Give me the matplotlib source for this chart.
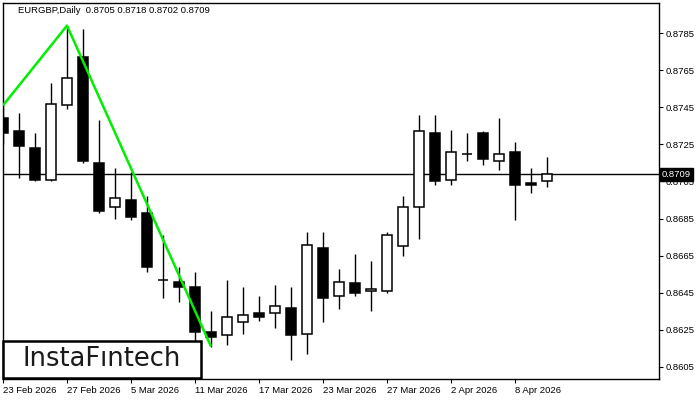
import matplotlib
matplotlib.use("Agg")
import matplotlib.pyplot as plt
from matplotlib.patches import Rectangle

# ---- data ----
opens  = [0.8739, 0.8732, 0.8723, 0.8706, 0.8746, 0.8772, 0.8715, 0.8691, 0.8695, 0.8688,
          0.8652, 0.8651, 0.8648, 0.8624, 0.8622, 0.8629, 0.8634, 0.8634, 0.8637, 0.8623,
          0.8669, 0.8643, 0.8650, 0.8646, 0.8646, 0.8670, 0.8691, 0.8731, 0.8706, 0.8720,
          0.8731, 0.8716, 0.8721, 0.8704, 0.8705]
highs  = [0.8746, 0.8742, 0.8731, 0.8758, 0.8789, 0.8787, 0.8738, 0.8712, 0.8710, 0.8697,
          0.8676, 0.8659, 0.8656, 0.8635, 0.8652, 0.8648, 0.8643, 0.8649, 0.8648, 0.8678,
          0.8678, 0.8658, 0.8666, 0.8662, 0.8678, 0.8697, 0.8741, 0.8741, 0.8733, 0.8731,
          0.8732, 0.8739, 0.8726, 0.8712, 0.8718]
lows   = [0.8725, 0.8707, 0.8705, 0.8705, 0.8744, 0.8715, 0.8688, 0.8685, 0.8684, 0.8656,
          0.8642, 0.8640, 0.8618, 0.8616, 0.8617, 0.8623, 0.8630, 0.8626, 0.8609, 0.8612,
          0.8629, 0.8636, 0.8643, 0.8635, 0.8645, 0.8665, 0.8674, 0.8703, 0.8703, 0.8716,
          0.8714, 0.8711, 0.8684, 0.8699, 0.8702]
closes = [0.8731, 0.8724, 0.8706, 0.8747, 0.8761, 0.8716, 0.8689, 0.8696, 0.8686, 0.8659,
          0.8652, 0.8648, 0.8624, 0.8621, 0.8632, 0.8633, 0.8632, 0.8638, 0.8622, 0.8671,
          0.8642, 0.8651, 0.8645, 0.8647, 0.8676, 0.8691, 0.8732, 0.8705, 0.8721, 0.8720,
          0.8717, 0.8720, 0.8703, 0.8703, 0.8709]

date_labels = ["23 Feb 2026", "27 Feb 2026", "5 Mar 2026", "11 Mar 2026", "17 Mar 2026",
               "23 Mar 2026", "27 Mar 2026", "2 Apr 2026", "8 Apr 2026"]
label_step = 4

price_ticks = [0.8605, 0.8625, 0.8645, 0.8665, 0.8685, 0.8705, 0.8725, 0.8745, 0.8765, 0.8785]

pattern_idx = [0, 4, 13]
pattern_prices = [0.8746, 0.8789, 0.8616]

current_price = 0.8709
header = "EURGBP,Daily  0.8705 0.8718 0.8702 0.8709"
logo = "InstaF\u0131ntech"

# ---- figure ----
W, H = 700, 400
fig = plt.figure(figsize=(7, 4), dpi=100)
fig.patch.set_facecolor("white")
ax = fig.add_axes([3 / W, 21 / H, 656 / W, 376 / H])
ax.set_facecolor("white")

n = len(opens)
xs = list(range(n))
bw = 0.64
for i in xs:
    o, h, l, c = opens[i], highs[i], lows[i], closes[i]
    ax.vlines(i, l, h, color="black", lw=1.0, zorder=2)
    bottom = min(o, c)
    height = abs(c - o)
    fc = "white" if c > o else "black"
    ax.bar(i, height, bw, bottom=bottom, facecolor=fc, edgecolor="black",
           linewidth=1.1, zorder=3)

ax.axhline(current_price, color="black", lw=1.0, zorder=1)
ax.plot(pattern_idx, pattern_prices, color="#00ee00", lw=1.8, zorder=4,
        solid_capstyle="butt")

ax.set_xlim(0, 41)
ax.set_ylim(0.85985, 0.88012)

ax.yaxis.tick_right()
ax.set_yticks(price_ticks)
ax.set_yticklabels([f"{p:.4f}" for p in price_ticks])
ax.set_xticks(list(range(0, n, label_step))[:len(date_labels)])
ax.set_xticklabels(date_labels, ha="left")
ax.tick_params(axis="both", direction="out", length=3, width=0.8, color="black",
               labelsize=6.8, labelcolor="black", pad=2)
for lab in ax.get_xticklabels() + ax.get_yticklabels():
    lab.set_fontfamily("Liberation Sans")
for sp in ax.spines.values():
    sp.set_linewidth(1.0)
    sp.set_color("black")

# header text
fig.text(18 / W, 1 - 10.5 / H, header, fontsize=6.8, family="Liberation Sans",
         color="black", ha="left", va="center")

# current price label
fig.text(662 / W, 1 - 174.5 / H, f"{current_price:.4f}", fontsize=6.8,
         family="Liberation Sans", color="white", ha="left", va="center",
         bbox=dict(boxstyle="square,pad=0.18", fc="black", ec="black"))

# logo box
rect = Rectangle((3 / W, 1 - 378 / H), 198 / W, 37 / H, transform=fig.transFigure,
                 facecolor="white", edgecolor="black", linewidth=1.8, zorder=10)
fig.patches.append(rect)
fig.text(101.5 / W, 1 - 359.5 / H, logo, fontsize=18.5, family="DejaVu Sans",
         color="#1a1a1a", ha="center", va="center", zorder=11)

fig.savefig("out.png", dpi=100)
